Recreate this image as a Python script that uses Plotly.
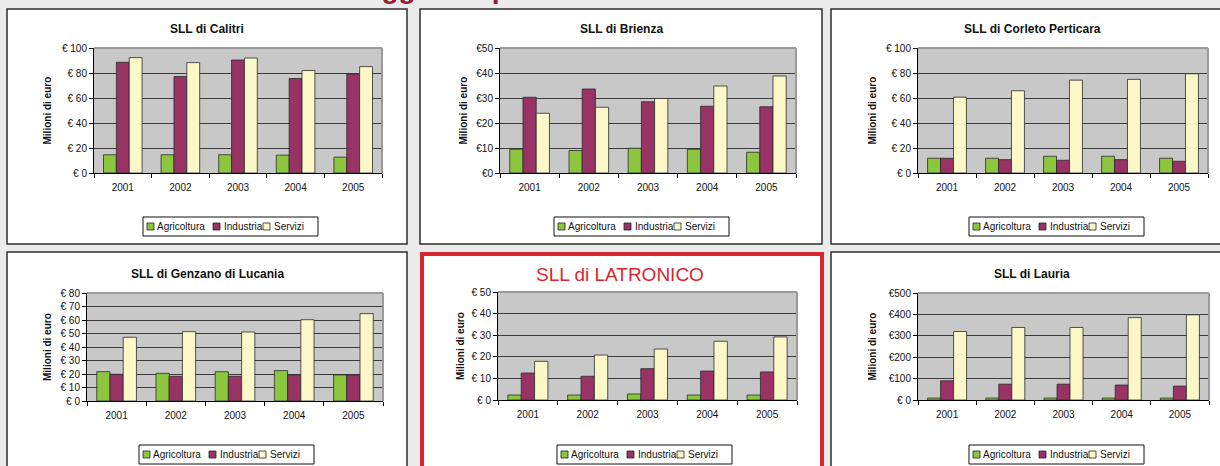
import plotly.graph_objects as go

# ---------------- data ----------------
years = ["2001", "2002", "2003", "2004", "2005"]
sectors = ["Agricoltura", "Industria", "Servizi"]

titles = ["SLL di Calitri", "SLL di Brienza", "SLL di Corleto Perticara",
          "SLL di Genzano di Lucania", "SLL di LATRONICO", "SLL di Lauria"]

calitri_agr = [14.6, 14.6, 14.6, 14.3, 12.7]
calitri_ind = [88.6, 77.2, 90.4, 75.6, 79.3]
calitri_ser = [92.3, 88.3, 92.0, 82.0, 85.1]

brienza_agr = [9.5, 9.0, 9.9, 9.5, 8.3]
brienza_ind = [30.3, 33.6, 28.5, 26.7, 26.5]
brienza_ser = [23.9, 26.3, 29.8, 34.8, 38.8]

corleto_agr = [11.8, 11.8, 13.4, 13.4, 11.8]
corleto_ind = [11.8, 10.7, 10.2, 10.7, 9.4]
corleto_ser = [60.7, 65.8, 74.3, 74.9, 79.4]

genzano_agr = [21.7, 20.5, 21.7, 22.5, 19.3]
genzano_ind = [19.8, 18.3, 18.3, 19.3, 19.3]
genzano_ser = [47.2, 51.4, 51.1, 60.2, 64.7]

latronico_agr = [2.3, 2.3, 2.8, 2.3, 2.3]
latronico_ind = [12.5, 11.0, 14.5, 13.4, 13.0]
latronico_ser = [17.9, 20.8, 23.6, 27.2, 29.2]

lauria_agr = [9, 9, 9, 9, 9]
lauria_ind = [90, 74, 74, 70, 65]
lauria_ser = [320, 339, 339, 385, 398]

calitri_ticks = ["€ 0", "€ 20", "€ 40", "€ 60", "€ 80", "€ 100"]
brienza_ticks = ["€0", "€10", "€20", "€30", "€40", "€50"]
corleto_ticks = ["€ 0", "€ 20", "€ 40", "€ 60", "€ 80", "€ 100"]
genzano_ticks = ["€ 0", "€ 10", "€ 20", "€ 30", "€ 40", "€ 50", "€ 60", "€ 70", "€ 80"]
latronico_ticks = ["€ 0", "€ 10", "€ 20", "€ 30", "€ 40", "€ 50"]
lauria_ticks = ["€ 0", "€100", "€200", "€300", "€400", "€500"]

y_max = [100, 50, 100, 80, 50, 500]
y_step = [20, 10, 20, 10, 10, 100]

ytitle = "Milioni di euro"
top_text = "Valore aggiunto per settore"

# ---------------- styling / layout ----------------
W, H = 1220, 466
FONT = "Liberation Sans, Arial, sans-serif"
NARROW = "Liberation Sans Narrow, Arial Narrow, Liberation Sans, sans-serif"
colors = ["#8cc63f", "#993366", "#fbf8c8"]
BG = "#ebebeb"
PLOT_BG = "#c8c8c8"

series = [
    (calitri_agr, calitri_ind, calitri_ser, calitri_ticks),
    (brienza_agr, brienza_ind, brienza_ser, brienza_ticks),
    (corleto_agr, corleto_ind, corleto_ser, corleto_ticks),
    (genzano_agr, genzano_ind, genzano_ser, genzano_ticks),
    (latronico_agr, latronico_ind, latronico_ser, latronico_ticks),
    (lauria_agr, lauria_ind, lauria_ser, lauria_ticks),
]

# pixel geometry: plot area (x0, y0, x1, y1)
plot_px = [(94, 48, 382, 173), (500, 48, 796, 173), (918, 48, 1208, 173),
           (87, 293, 383, 401), (498, 292, 797, 400), (918, 293, 1209, 400)]
panel_px = [(7, 9, 407, 244), (420, 9, 822, 244), (831, 9, 1232, 244),
            (7, 252, 407, 480), (422, 254, 822, 480), (831, 252, 1232, 480)]
title_px = [(207, 29), (621, 29), (1032, 29), (207, 274), (620, 274), (1032, 274)]
ytitle_x = [47, 463, 872, 47, 460, 872]
legend_px = [(143, 226.5), (554, 226.5), (969, 226.5), (139, 454.5), (557, 454.5), (969, 454.5)]


def px(x):
    return x / W


def py(y):
    return 1 - y / H


fig = go.Figure()
shapes = []
annotations = []
layout = {}

# panels (white boxes) and grey plot backgrounds
for i in range(6):
    x0, y0, x1, y1 = panel_px[i]
    red = (i == 4)
    shapes.append(dict(type="rect", xref="paper", yref="paper", layer="below",
                       x0=px(x0), x1=px(x1), y0=py(y1), y1=py(y0),
                       fillcolor="white",
                       line=dict(color="#d7262e" if red else "#2e2e2e", width=4 if red else 1.5)))
for i in range(6):
    x0, y0, x1, y1 = plot_px[i]
    shapes.append(dict(type="rect", xref="paper", yref="paper", layer="below",
                       x0=px(x0), x1=px(x1), y0=py(y1), y1=py(y0),
                       fillcolor=PLOT_BG, line=dict(width=0)))

for i in range(6):
    n = "" if i == 0 else str(i + 1)
    x0, y0, x1, y1 = plot_px[i]
    agr, ind, ser, ticks = series[i]
    for s, vals in enumerate([agr, ind, ser]):
        fig.add_trace(go.Bar(
            x=years, y=vals, name=sectors[s],
            marker=dict(color=colors[s], line=dict(color="#2b2b2b", width=0.8)),
            xaxis="x" + n, yaxis="y" + n, showlegend=False,
            hovertemplate="%{x}: %{y}<extra>" + sectors[s] + "</extra>"))
    tickvals = list(range(0, y_max[i] + 1, y_step[i]))
    layout["xaxis" + n] = dict(
        domain=[px(x0), px(x1)], anchor="y" + n, type="category",
        showline=True, linecolor="black", linewidth=1,
        ticks="outside", ticklen=4, tickcolor="black", tickson="boundaries",
        showgrid=False, ticklabelstandoff=5, automargin=False,
        tickfont=dict(family=FONT, size=10, color="#111"), fixedrange=True)
    layout["yaxis" + n] = dict(
        domain=[py(y1), py(y0)], anchor="x" + n, range=[0, y_max[i]],
        tickvals=tickvals, ticktext=ticks, automargin=False,
        showline=True, linecolor="black", linewidth=1,
        ticks="outside", ticklen=4, tickcolor="black",
        showgrid=True, gridcolor="#3c3c3c", gridwidth=1, zeroline=False,
        tickfont=dict(family=FONT, size=10, color="#111"), fixedrange=True)
    # grey top/right border of plot area
    shapes.append(dict(type="line", xref="paper", yref="paper", layer="above",
                       x0=px(x0), x1=px(x1), y0=py(y0), y1=py(y0),
                       line=dict(color="#9a9a9a", width=2)))
    shapes.append(dict(type="line", xref="paper", yref="paper", layer="above",
                       x0=px(x1), x1=px(x1), y0=py(y1), y1=py(y0),
                       line=dict(color="#9a9a9a", width=2)))
    # titles
    tx, ty = title_px[i]
    if i == 4:
        tfont = dict(family=NARROW, size=19, color="#d7262e")
    else:
        tfont = dict(family=FONT, size=12, color="#111")
    annotations.append(dict(text=titles[i] if i == 4 else "<b>" + titles[i] + "</b>",
                            x=px(tx), y=py(ty), xref="paper", yref="paper",
                            xanchor="center", yanchor="middle", showarrow=False, font=tfont))
    # y title
    annotations.append(dict(text="<b>" + ytitle + "</b>", textangle=-90,
                            x=px(ytitle_x[i]), y=py((y0 + y1) / 2), xref="paper", yref="paper",
                            xanchor="center", yanchor="middle", showarrow=False,
                            font=dict(family=FONT, size=10, color="#111")))
    # legend
    lx, cy = legend_px[i]
    shapes.append(dict(type="rect", xref="paper", yref="paper", layer="above",
                       x0=px(lx), x1=px(lx + 175), y0=py(cy + 9.5), y1=py(cy - 9.5),
                       fillcolor="white", line=dict(color="#111", width=1)))
    for s, (sq, tx_off) in enumerate([(4, 13), (70, 80), (120, 130)]):
        shapes.append(dict(type="rect", xref="paper", yref="paper", layer="above",
                           x0=px(lx + sq), x1=px(lx + sq + 7), y0=py(cy + 3.5), y1=py(cy - 3.5),
                           fillcolor=colors[s], line=dict(color="#222", width=0.8)))
        annotations.append(dict(text=sectors[s], x=px(lx + tx_off), y=py(cy),
                                xref="paper", yref="paper", xanchor="left", yanchor="middle",
                                showarrow=False, borderpad=0,
                                font=dict(family=FONT, size=10, color="#111")))

# cut-off red heading at top of page (only descenders visible, as in the source)
annotations.append(dict(text="<b>" + top_text + "</b>", x=px(272), y=1, yshift=-6,
                        xref="paper", yref="paper", xanchor="left", yanchor="bottom",
                        showarrow=False, font=dict(family=FONT, size=28, color="#9b1c31")))

fig.update_layout(
    width=W, height=H, autosize=False,
    margin=dict(l=0, r=0, t=0, b=0, pad=0, autoexpand=False),
    paper_bgcolor=BG, plot_bgcolor="rgba(0,0,0,0)",
    barmode="group", bargap=0.33, bargroupgap=0,
    shapes=shapes, annotations=annotations,
    **layout)

fig.write_html(
    "out.html",
    config={"displayModeBar": False},
    post_script="document.body.style.margin='0';document.body.style.overflow='hidden';"
                "document.body.style.background='" + BG + "';",
)
